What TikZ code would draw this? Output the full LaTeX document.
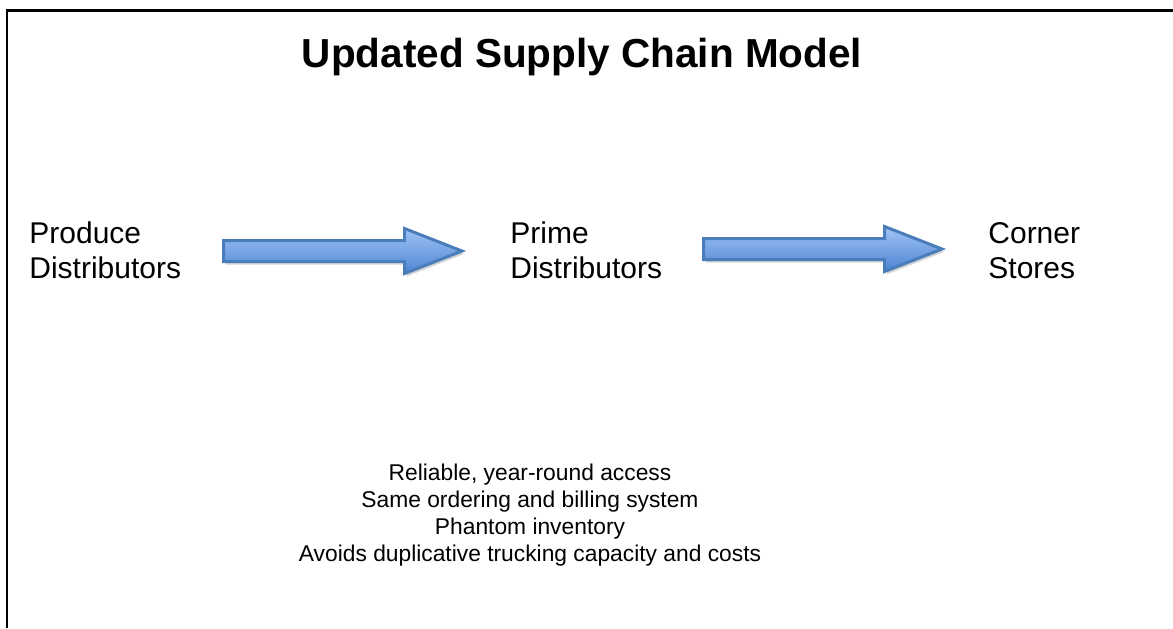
\documentclass[tikz,border=0pt]{standalone}
\usepackage{fontspec}
\setmainfont{Liberation Sans}

\definecolor{arrowline}{RGB}{74,126,187}
\definecolor{arrowtop}{RGB}{160,196,246}
\definecolor{arrowbottom}{RGB}{78,132,210}
\definecolor{arrowshadow}{RGB}{212,212,212}

\tikzset{
  stagetext/.style={font=\fontsize{15}{17.5}\selectfont, align=left, inner sep=0pt, anchor=base west},
  flowarrow/.style={top color=arrowtop, bottom color=arrowbottom, draw=arrowline, line width=1.5pt, line join=miter},
}

\begin{document}
\begin{tikzpicture}[x=0.5pt, y=-0.5pt]
    \useasboundingbox (0,0) rectangle (1173,628);

    % frame
    \draw[line width=1.2pt] (7,628) -- (7,10.5) -- (1173,10.5);

    % title
    \node[font=\bfseries\fontsize{20.25}{24}\selectfont, inner sep=0pt, anchor=base] (title) at (582,67) {Updated Supply Chain Model};

    % stages (base = last line)
    \node[stagetext] (produce) at (29,278) {Produce\\Distributors};
    \node[stagetext] (prime) at (510,278) {Prime\\Distributors};
    \node[stagetext] (corner) at (988,278) {Corner\\Stores};

    % block arrows
    \foreach \x/\y in {222/251, 702/249} {
        \fill[arrowshadow, shift={(\x+2,\y+3)}] (1.5,-10.5) -- (182.5,-10.5) -- (182.5,-22.5) -- (240,0)
            -- (182.5,22.5) -- (182.5,10.5) -- (1.5,10.5) -- cycle;
        \path[flowarrow, shift={(\x,\y)}] (1.5,-10.5) -- (182.5,-10.5) -- (182.5,-22.5) -- (240,0)
            -- (182.5,22.5) -- (182.5,10.5) -- (1.5,10.5) -- cycle;
    }

    % benefits
    \node[font=\fontsize{11.4}{13.5}\selectfont, align=center, inner sep=0pt, anchor=base] (benefits) at (530,561)
        {Reliable, year-round access\\Same ordering and billing system\\Phantom inventory\\Avoids duplicative trucking capacity and costs};
\end{tikzpicture}
\end{document}
